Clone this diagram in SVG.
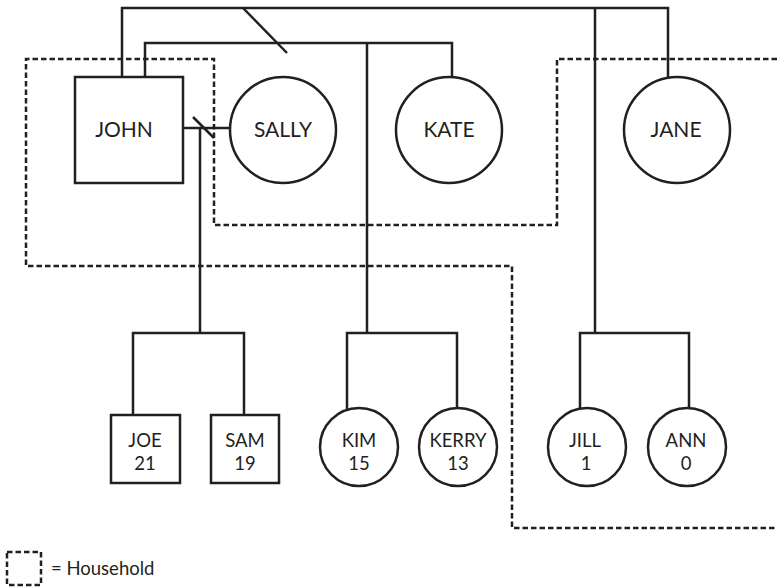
<svg xmlns="http://www.w3.org/2000/svg" width="777" height="588" viewBox="0 0 777 588">
  <style>
    .ln { fill: none; stroke: #231f20; stroke-width: 2.5; stroke-linecap: butt; }
    .hh { fill: none; stroke: #231f20; stroke-width: 2.5; stroke-dasharray: 5.5 3; }
    .nd { fill: #fff; stroke: #231f20; stroke-width: 2.5; }
    .lbl { font-family: "Lato", "Liberation Sans", sans-serif; fill: #231f20; text-anchor: middle; }
    .big { font-size: 21px; }
    .sm { font-size: 18.5px; }
  </style>
  <rect width="777" height="588" fill="#fff"/>

  <!-- household boundary -->
  <g id="households">
    <path class="hh" d="M777,59 H557 V225 H214 V59 H26 V266 H512 V528 H777"/>
  </g>

  <!-- relationship lines -->
  <g id="connectors">
    <!-- John and Jane (divorced) -->
    <path class="ln" d="M122,77 V8 H668 V77"/>
    <line class="ln" x1="243" y1="8" x2="287" y2="53"/>
    <!-- John and Kate -->
    <path class="ln" d="M145,77 V43 H452 V77"/>
    <!-- John and Sally -->
    <line class="ln" x1="183" y1="128" x2="229" y2="128"/>
    <line class="ln" x1="193" y1="117" x2="214" y2="138"/>
    <!-- descent lines -->
    <line class="ln" x1="200" y1="128" x2="200" y2="333"/>
    <line class="ln" x1="367" y1="43" x2="367" y2="333"/>
    <line class="ln" x1="595" y1="8" x2="595" y2="333"/>
    <!-- sibling bars -->
    <path class="ln" d="M133,415 V333 H244 V415"/>
    <path class="ln" d="M347,410 V333 H457 V408"/>
    <path class="ln" d="M580,410 V333 H689 V408"/>
  </g>

  <g id="john">
    <rect class="nd" x="75" y="77" width="108" height="106"/>
    <text class="lbl big" x="124" y="137">JOHN</text>
  </g>
  <g id="sally">
    <circle class="nd" cx="283" cy="130" r="53"/>
    <text class="lbl big" x="283" y="137">SALLY</text>
  </g>
  <g id="kate">
    <circle class="nd" cx="449" cy="130" r="53"/>
    <text class="lbl big" x="449" y="137">KATE</text>
  </g>
  <g id="jane">
    <circle class="nd" cx="677" cy="130" r="53"/>
    <text class="lbl big" x="676" y="137">JANE</text>
  </g>

  <g id="joe">
    <rect class="nd" x="111" y="415" width="69" height="68"/>
    <text class="lbl sm" x="145" y="447">JOE</text>
    <text class="lbl sm" x="145" y="470">21</text>
  </g>
  <g id="sam">
    <rect class="nd" x="211" y="415" width="68" height="68"/>
    <text class="lbl sm" x="245" y="447">SAM</text>
    <text class="lbl sm" x="245" y="470">19</text>
  </g>
  <g id="kim">
    <circle class="nd" cx="359" cy="447" r="39"/>
    <text class="lbl sm" x="359" y="447">KIM</text>
    <text class="lbl sm" x="359" y="470">15</text>
  </g>
  <g id="kerry">
    <circle class="nd" cx="458" cy="447" r="39"/>
    <text class="lbl sm" x="458" y="447">KERRY</text>
    <text class="lbl sm" x="458" y="470">13</text>
  </g>
  <g id="jill">
    <circle class="nd" cx="587" cy="447" r="39"/>
    <text class="lbl sm" x="585" y="447">JILL</text>
    <text class="lbl sm" x="586" y="470">1</text>
  </g>
  <g id="ann">
    <circle class="nd" cx="687" cy="447" r="39"/>
    <text class="lbl sm" x="686" y="447">ANN</text>
    <text class="lbl sm" x="686" y="470">0</text>
  </g>

  <!-- legend -->
  <g id="legend">
    <rect class="hh" x="7" y="552" width="34" height="33"/>
    <text x="51" y="575" font-family="Lato, 'Liberation Sans', sans-serif" font-size="18.5" fill="#231f20">= Household</text>
  </g>
</svg>
